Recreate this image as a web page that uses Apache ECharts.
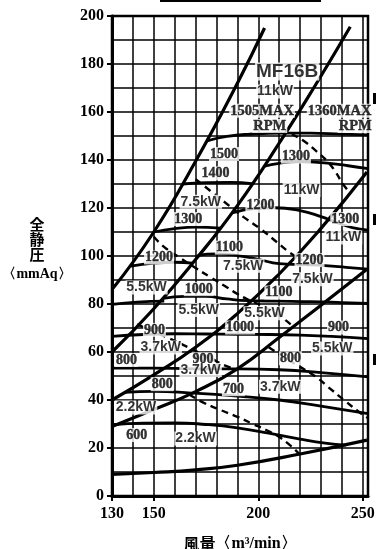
<!DOCTYPE html>
<html><head><meta charset="utf-8">
<script src="https://cdn.jsdelivr.net/npm/echarts@6/dist/echarts.min.js"></script>
<style>html,body{margin:0;padding:0;background:#fff}#c{width:377px;height:549px}</style>
</head><body><div id="c"></div><script>
// ---- tick labels ----
const xTicks = [130, 150, 200, 250];
const yTicks = [0, 20, 40, 60, 80, 100, 120, 140, 160, 180, 200];

// ---- system (diagonal) lines: [flow m3/min, static pressure mmAq] ----
const sysA = [[130,86],[150,110],[170,139.5],[190,172],[203,195]];
const sysB = [[130,60],[150,78],[170,98.5],[190,121],[210,147],[230,175],[244,195.5]];
const sysC = [[130,40],[150,50.5],[170,62],[190,76],[210,92.5],[230,111.5],[252,135]];
const sysD = [[130,29],[150,36],[170,43.5],[190,53],[210,66],[230,79.5],[252,94.5]];
const sysE = [[130,9],[150,9.8],[170,10.9],[190,12.8],[220,17.5],[252,23.3]];

// ---- fan curves (solid) ----
const fan1500  = [[175.5,148],[185,149.8],[195,150.7],[212,151.2],[225,151.2],[240,150.8],[252.5,150.5]];
const fan1400  = [[163.8,130],[175,130.6],[187,130.7],[197,130.2]];
const fan1300L = [[150,110],[160,111.4],[170,112],[181.7,111.6]];
const fan1200L = [[139,95.8],[150,97],[160,97.4],[168.5,97]];
const fan1100L = [[130,79.8],[142,80.8],[155,81.2]];
const fan1300R = [[202.5,137.3],[210,138.6],[220,139.3],[233,138.7],[243,137.6],[252.5,136.4]];
const fan1200R = [[187.5,118],[198,119.7],[208,120.1],[220,118.9],[230,116.4],[238,113.8],[245,111.8],[252.5,110.8]];
const fan1100R = [[171,100.3],[180,100.9],[190,100.2],[200,98.6],[210,96.8],[222,96.4],[232,96],[242,95.3],[252.5,94.5]];
const fan1000R = [[154.5,82.3],[165,83.2],[175,83.2],[185,82.1],[195,81.4],[210,81.2],[225,81],[240,80.6],[252.5,80.2]];
const fan900   = [[130,66.5],[145,67.3],[160,67.6],[175,67.5],[190,67.4],[205,67.3],[220,67],[235,66.5],[252.5,65.6]];
const fan800   = [[130,53.3],[150,53.3],[170,53],[190,53],[210,52.6],[230,51.4],[252.5,49.6]];
const fan700   = [[136,43.2],[150,43.6],[168,42.9],[190,41.6],[210,40],[230,37.4],[252.5,34.3]];
const fan600   = [[130,29.6],[145,30.4],[160,30.5],[175,29.8],[190,28.4],[205,26.2],[220,23.7],[232,22],[242,21.2]];

// ---- motor power limit lines (dashed) ----
const pw11  = [[216,150.8],[222,147.8],[228,143.5],[233,139.5],[237,135],[240.5,130],[244,126.3]];
const pw75  = [[170,132],[178,126.5],[186,121],[193,116.2],[201,111.3],[209,105.7],[215,101.5],[221,98.3]];
const pw55  = [[150,108],[156,103],[163,99],[170,95],[177,91.2],[184,87.5],[190,84.2],[196,81.5],[202,79.2],[209,75.8],[215.5,71.5]];
const pw37  = [[142,71.5],[150,68.5],[157,65.8],[164,63],[171,60],[177,57.5],[183,54.8],[189.5,52.6]];
const pwR   = [[205,62],[212,58],[218.4,54.6],[227.5,49.7],[233.3,45.5],[241,40],[249,34.5],[252.5,32.5]];
const pw22  = [[167,42.3],[174,38.8],[182,35.8],[190,33],[197,30.2],[204,27.4],[210,24.6],[215,21.3],[219.5,17.6]];

// ---- text labels: [text, flow, pressure] ----
const rpmLabels = [
  ['1500',183.6,142.5],['1400',179.5,134.4],['1300',218,141.4],['1200',201,120.9],
  ['1300',166.5,115.4],['1300',241.6,115.4],['1200',152.5,99.4],['1100',186.2,103.5],
  ['1200',224.5,98.3],['1000',171.5,86.2],['1100',209.9,84.8],['900',150.3,69.2],
  ['1000',191.3,70.2],['900',238.4,70.2],['800',136.9,56.7],['900',173.6,57],
  ['800',215.4,57.4],['800',154,46.6],['700',188.1,44.5],['600',141.9,25.4]
];
const kwLabels = [
  ['11kW',208,168.5],['11kW',220.7,127.5],['7.5kW',172.5,122.6],['11kW',240.7,107.7],
  ['7.5kW',192.8,95.9],['7.5kW',225.9,90.3],['5.5kW',146.5,86.9],['5.5kW',171.5,77.5],
  ['5.5kW',203,76.1],['3.7kW',153.3,61.9],['5.5kW',235.4,61.5],['3.7kW',172.4,52.5],
  ['3.7kW',210.5,45.5],['2.2kW',141.5,36.9],['2.2kW',170,24]
];
const maxLabels = [['1505MAX',201.8,160.5],['RPM',205.5,154.2],['1360MAX',238.9,160.5],['RPM',246.4,154.2]];
const modelLabel = [['MF16B',213.8,176.9]];

const SERIF = "'Liberation Serif','DejaVu Serif',serif";
const SANS = "'Liberation Sans','DejaVu Sans',sans-serif";
const CJK = "'Noto Sans CJK JP','Noto Sans CJK SC',sans-serif";

function ln(data, width, dashed) {
  return {type:'line', data, symbol:'none', smooth:0.5, silent:true, z:3,
    lineStyle:{color:'#000', width, type: dashed ? [7,5] : 'solid', cap:'butt'}};
}
function lab(arr, style) {
  return {type:'scatter', data: arr.map(d => [d[1], d[2], d[0]]), symbolSize:0, silent:true, z:10,
    label: Object.assign({show:true, position:'inside', formatter: p => p.data[2], color:'#000',
      textBorderWidth:0, textBorderColor:'transparent', textShadowBlur:0,
      backgroundColor:'#fff', padding:[0,1]}, style)};
}

const chart = echarts.init(document.getElementById('c'), null, {renderer:'canvas'});
chart.setOption({
  animation:false,
  backgroundColor:'#fff',
  grid:{left:112, top:16, width:256, height:480, containLabel:false, outerBoundsMode:'none',
        show:true, borderColor:'#000', borderWidth:2.5},
  xAxis:[
    {type:'value', min:130, max:252.5, interval:10,
      axisLine:{show:true, onZero:false, lineStyle:{color:'#000', width:3}},
      axisTick:{show:false}, axisLabel:{show:false},
      splitLine:{show:true, lineStyle:{color:'#000', width:1.5}}},
    {type:'value', min:130, max:252.5, position:'bottom',
      axisLine:{show:false}, splitLine:{show:false},
      axisTick:{show:true, length:5, customValues:xTicks, lineStyle:{color:'#000', width:2}},
      axisLabel:{show:true, customValues:xTicks, margin:10, color:'#000', fontFamily:SERIF, fontSize:16, fontWeight:'bold'},
      name:'{a|風量}{b|〈m³/min〉}', nameLocation:'middle', nameGap:40,
      nameTextStyle:{rich:{a:{fontFamily:CJK, fontSize:16, fontWeight:'bold', color:'#000'},
                           b:{fontFamily:SERIF, fontSize:16, fontWeight:'bold', color:'#000'}}}}
  ],
  yAxis:[
    {type:'value', min:0, max:200, interval:10,
      axisLine:{show:true, onZero:false, lineStyle:{color:'#000', width:3}},
      axisTick:{show:false}, axisLabel:{show:false},
      splitLine:{show:true, lineStyle:{color:'#000', width:1.5}}},
    {type:'value', min:0, max:200, interval:20, position:'left',
      axisLine:{show:false}, splitLine:{show:false},
      axisTick:{show:true, length:5, customValues:yTicks, lineStyle:{color:'#000', width:2}},
      axisLabel:{show:true, customValues:yTicks, margin:8, color:'#000', fontFamily:SERIF, fontSize:16, fontWeight:'bold'},
      name:'{a|全}\n{a|静}\n{a|圧}\n{b|〈mmAq〉}', nameLocation:'middle', nameGap:75, nameRotate:0,
      nameTextStyle:{align:'center', verticalAlign:'middle', padding:[0,0,8,0],
        rich:{a:{fontFamily:CJK, fontSize:15, fontWeight:'bold', lineHeight:15, color:'#000', align:'center'},
              b:{fontFamily:SERIF, fontSize:14, fontWeight:'bold', lineHeight:26, color:'#000', align:'center'}}}}
  ],
  graphic:[
    {type:'rect', shape:{x:160, y:0, width:161, height:2}, style:{fill:'#000'}},
    {type:'rect', shape:{x:373, y:93, width:3, height:11}, style:{fill:'#000'}},
    {type:'rect', shape:{x:373, y:214, width:3, height:11}, style:{fill:'#000'}},
    {type:'rect', shape:{x:373, y:354, width:3, height:11}, style:{fill:'#000'}}
  ],
  series:[
    ln(sysA,3.2), ln(sysB,3.2), ln(sysC,3.2), ln(sysD,3.2), ln(sysE,3.2),
    ln(fan1500,2.8), ln(fan1400,2.8), ln(fan1300L,2.8), ln(fan1200L,2.8), ln(fan1100L,2.8),
    ln(fan1300R,2.8), ln(fan1200R,2.8), ln(fan1100R,2.8), ln(fan1000R,2.8),
    ln(fan900,2.8), ln(fan800,2.8), ln(fan700,2.8), ln(fan600,2.8),
    ln(pw11,2.4,true), ln(pw75,2.4,true), ln(pw55,2.4,true), ln(pw37,2.4,true), ln(pwR,2.4,true), ln(pw22,2.4,true),
    lab(rpmLabels, {fontFamily:SERIF, fontSize:14, fontWeight:'bold', lineHeight:14, textBorderColor:'#000', textBorderWidth:0.4}),
    lab(kwLabels, {fontFamily:SANS, fontSize:14, fontWeight:'bold', lineHeight:14}),
    lab(maxLabels, {fontFamily:SERIF, fontSize:14.5, fontWeight:'bold', lineHeight:14, textBorderColor:'#000', textBorderWidth:0.4}),
    lab(modelLabel, {fontFamily:SANS, fontSize:19, fontWeight:'bold', lineHeight:18})
  ]
});
</script></body></html>
